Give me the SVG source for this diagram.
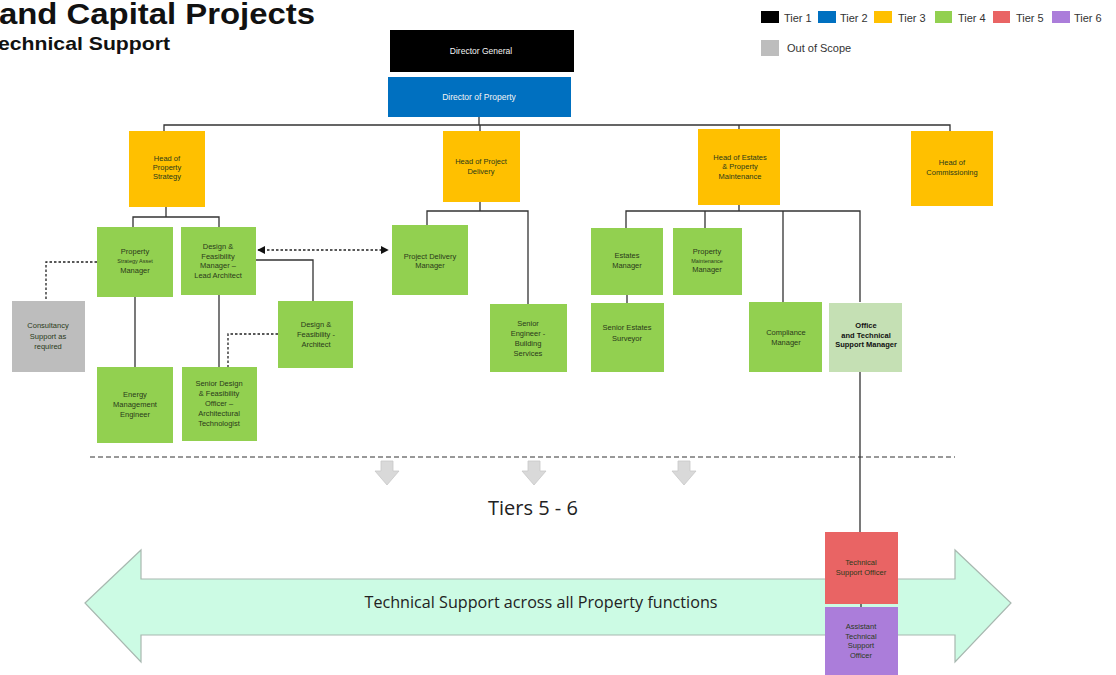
<svg xmlns="http://www.w3.org/2000/svg" width="1116" height="675" viewBox="0 0 1116 675">
  <style>
    .t1{fill:#000}.t2{fill:#0070C0}.t3{fill:#FFC000}.t4{fill:#92D050}.t4l{fill:#C5E0B4}.t5{fill:#E96464}.t6{fill:#AB7DDA}.oos{fill:#BDBDBD}
    .lbl{font-family:"Liberation Sans",Arial,sans-serif;font-size:7.5px;fill:#2a3a1a;text-anchor:middle}
    .sm{font-size:5.5px}
    .wht{fill:#f4f4f4;font-size:8.5px}
    .bold{font-weight:bold;fill:#111;font-size:7.5px}
    .leg{font-family:"Liberation Sans",Arial,sans-serif;font-size:11px;fill:#333}
    .ln{stroke:#333;stroke-width:1.3;fill:none}
    .dot{stroke:#222;stroke-width:1.3;fill:none;stroke-dasharray:2.5 2}
  </style>
  <defs>
    <marker id="ah" viewBox="0 0 10 10" refX="9" refY="5" markerWidth="6" markerHeight="6" orient="auto-start-reverse">
      <path d="M0 0 L10 5 L0 10 z" fill="#111"/>
    </marker>
    <path id="dn" d="M-6 0 H6 V10 H12 L0 24 L-12 10 H-6 Z" fill="#D9D9D9" stroke="#C8C8C8" stroke-width="0.8"/>
  </defs>

  <rect width="1116" height="675" fill="#fff"/>

  <!-- title -->
  <text x="-1" y="24" font-family="'Liberation Sans',Arial,sans-serif" font-weight="bold" font-size="29" fill="#111" textLength="316" lengthAdjust="spacingAndGlyphs">and Capital Projects</text>
  <text x="-2" y="50" font-family="'Liberation Sans',Arial,sans-serif" font-weight="bold" font-size="19" fill="#111" textLength="172" lengthAdjust="spacingAndGlyphs">echnical Support</text>

  <!-- legend -->
  <g id="legend">
    <rect class="t1" x="761" y="11" width="18" height="12"/><text class="leg" x="784" y="22">Tier 1</text>
    <rect class="t2" x="818" y="11" width="18" height="12"/><text class="leg" x="840" y="22">Tier 2</text>
    <rect class="t3" x="874" y="11" width="18" height="12"/><text class="leg" x="898" y="22">Tier 3</text>
    <rect class="t4" x="935" y="11" width="17" height="12"/><text class="leg" x="958" y="22">Tier 4</text>
    <rect class="t5" x="993" y="11" width="17" height="12"/><text class="leg" x="1016" y="22">Tier 5</text>
    <rect class="t6" x="1052" y="11" width="18" height="12"/><text class="leg" x="1074" y="22">Tier 6</text>
    <rect class="oos" x="761" y="40" width="18" height="16"/><text class="leg" x="787" y="52">Out of Scope</text>
  </g>

  <!-- support band -->
  <g id="support-band">
    <path d="M85 603 L141 550 V579 H955 V550 L1011 603 L955 662 V635 H141 V662 Z" fill="#CCFBE4" stroke="#A8B8B0" stroke-width="1.2"/>
    <text x="541" y="608" font-family="'Open Sans','Liberation Sans',sans-serif" font-size="16" fill="#222" text-anchor="middle" textLength="353" lengthAdjust="spacingAndGlyphs">Technical Support across all Property functions</text>
  </g>

  <!-- connectors -->
  <g id="connectors">
    <path class="ln" d="M479 117 V125 M164 131 V125 H950 V131 M480 125 V131 M739 125 V129"/>
    <path class="ln" d="M166 207 V217 M133 227 V217 H219 V227"/>
    <path class="ln" d="M256 260 H313 V301"/>
    <path class="ln" d="M135 297 V367 M219 295 V367"/>
    <path class="dot" d="M97 262 H46 V301"/>
    <path class="dot" d="M278 334 H228 V367"/>
    <path class="dot" d="M258 250 H388" marker-start="url(#ah)" marker-end="url(#ah)"/>
    <path class="ln" d="M480 202 V211 M427 225 V211 H528 V304"/>
    <path class="ln" d="M739 205 V211 M626 228 V211 H860 V302 M705 211 V228 M783 211 V302"/>
    <path class="ln" d="M627 295 V303"/>
    <path class="ln" d="M860 372 V532 M861 604 V607"/>
    <line x1="90" y1="457" x2="955" y2="457" stroke="#333" stroke-width="1" stroke-dasharray="5 3"/>
    <use href="#dn" x="387" y="461"/>
    <use href="#dn" x="534" y="461"/>
    <use href="#dn" x="684" y="461"/>
  </g>

  <text x="533" y="515" font-family="'Open Sans','Liberation Sans',sans-serif" font-size="20" fill="#222" text-anchor="middle">Tiers 5 - 6</text>

  <!-- tier 1 / 2 -->
  <g id="director-general">
    <rect class="t1" x="390" y="30" width="184" height="42"/>
    <text class="lbl wht" x="481" y="54">Director General</text>
  </g>
  <g id="director-property">
    <rect class="t2" x="388" y="77" width="183" height="40"/>
    <text class="lbl wht" x="479" y="100">Director of Property</text>
  </g>

  <!-- tier 3 -->
  <g id="head-property-strategy">
    <rect class="t3" x="129" y="131" width="76" height="76"/>
    <text class="lbl" x="167" y="161">Head of</text>
    <text class="lbl" x="167" y="170">Property</text>
    <text class="lbl" x="167" y="179">Strategy</text>
  </g>
  <g id="head-project-delivery">
    <rect class="t3" x="443" y="131" width="77" height="71"/>
    <text class="lbl" x="481" y="164">Head of Project</text>
    <text class="lbl" x="481" y="174">Delivery</text>
  </g>
  <g id="head-estates">
    <rect class="t3" x="698" y="129" width="82" height="76"/>
    <text class="lbl" x="740" y="160">Head of Estates</text>
    <text class="lbl" x="740" y="169">&amp; Property</text>
    <text class="lbl" x="740" y="179">Maintenance</text>
  </g>
  <g id="head-commissioning">
    <rect class="t3" x="911" y="131" width="82" height="75"/>
    <text class="lbl" x="952" y="165">Head of</text>
    <text class="lbl" x="952" y="175">Commissioning</text>
  </g>

  <!-- tier 4 -->
  <g id="property-strategy-asset-manager">
    <rect class="t4" x="97" y="227" width="76" height="70"/>
    <text class="lbl" x="135" y="254">Property</text>
    <text class="lbl sm" x="135" y="263">Strategy Asset</text>
    <text class="lbl" x="135" y="273">Manager</text>
  </g>
  <g id="design-feasibility-manager">
    <rect class="t4" x="181" y="227" width="75" height="68"/>
    <text class="lbl" x="218" y="249">Design &amp;</text>
    <text class="lbl" x="218" y="259">Feasibility</text>
    <text class="lbl" x="218" y="268">Manager –</text>
    <text class="lbl" x="218" y="278">Lead Architect</text>
  </g>
  <g id="consultancy-support">
    <rect class="oos" x="12" y="301" width="73" height="71"/>
    <text class="lbl" x="48" y="328">Consultancy</text>
    <text class="lbl" x="48" y="339">Support as</text>
    <text class="lbl" x="48" y="349">required</text>
  </g>
  <g id="design-feasibility-architect">
    <rect class="t4" x="278" y="301" width="75" height="67"/>
    <text class="lbl" x="316" y="327">Design &amp;</text>
    <text class="lbl" x="316" y="337">Feasibility -</text>
    <text class="lbl" x="316" y="347">Architect</text>
  </g>
  <g id="energy-management-engineer">
    <rect class="t4" x="97" y="367" width="76" height="76"/>
    <text class="lbl" x="135" y="397">Energy</text>
    <text class="lbl" x="135" y="407">Management</text>
    <text class="lbl" x="135" y="417">Engineer</text>
  </g>
  <g id="senior-design-feasibility-officer">
    <rect class="t4" x="182" y="367" width="75" height="74"/>
    <text class="lbl" x="219" y="386">Senior Design</text>
    <text class="lbl" x="219" y="396">&amp; Feasibility</text>
    <text class="lbl" x="219" y="406">Officer –</text>
    <text class="lbl" x="219" y="416">Architectural</text>
    <text class="lbl" x="219" y="426">Technologist</text>
  </g>
  <g id="project-delivery-manager">
    <rect class="t4" x="392" y="225" width="76" height="70"/>
    <text class="lbl" x="430" y="259">Project Delivery</text>
    <text class="lbl" x="430" y="268">Manager</text>
  </g>
  <g id="senior-engineer-building-services">
    <rect class="t4" x="490" y="304" width="77" height="68"/>
    <text class="lbl" x="528" y="326">Senior</text>
    <text class="lbl" x="528" y="336">Engineer -</text>
    <text class="lbl" x="528" y="346">Building</text>
    <text class="lbl" x="528" y="356">Services</text>
  </g>
  <g id="estates-manager">
    <rect class="t4" x="591" y="228" width="72" height="67"/>
    <text class="lbl" x="627" y="258">Estates</text>
    <text class="lbl" x="627" y="268">Manager</text>
  </g>
  <g id="property-maintenance-manager">
    <rect class="t4" x="673" y="228" width="69" height="67"/>
    <text class="lbl" x="707" y="254">Property</text>
    <text class="lbl sm" x="707" y="263">Maintenance</text>
    <text class="lbl" x="707" y="272">Manager</text>
  </g>
  <g id="senior-estates-surveyor">
    <rect class="t4" x="591" y="303" width="73" height="69"/>
    <text class="lbl" x="627" y="330">Senior Estates</text>
    <text class="lbl" x="627" y="341">Surveyor</text>
  </g>
  <g id="compliance-manager">
    <rect class="t4" x="749" y="302" width="73" height="70"/>
    <text class="lbl" x="786" y="335">Compliance</text>
    <text class="lbl" x="786" y="345">Manager</text>
  </g>
  <g id="office-technical-support-manager">
    <rect class="t4l" x="829" y="303" width="73" height="69"/>
    <text class="lbl bold" x="866" y="328">Office</text>
    <text class="lbl bold" x="866" y="338">and Technical</text>
    <text class="lbl bold" x="866" y="347">Support Manager</text>
  </g>

  <!-- tiers 5 / 6 -->
  <g id="technical-support-officer">
    <rect class="t5" x="825" y="532" width="73" height="72"/>
    <text class="lbl" x="861" y="565">Technical</text>
    <text class="lbl" x="861" y="575">Support Officer</text>
  </g>
  <g id="assistant-technical-support-officer">
    <rect class="t6" x="825" y="607" width="73" height="68"/>
    <text class="lbl" x="861" y="629">Assistant</text>
    <text class="lbl" x="861" y="639">Technical</text>
    <text class="lbl" x="861" y="648">Support</text>
    <text class="lbl" x="861" y="658">Officer</text>
  </g>
</svg>
